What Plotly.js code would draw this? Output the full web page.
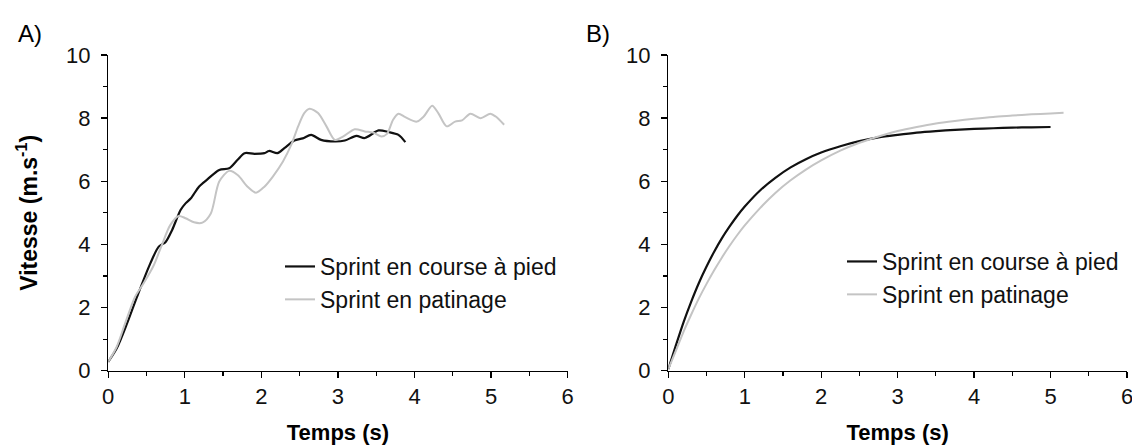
<!DOCTYPE html>
<html><head><meta charset="utf-8">
<script src="https://cdn.plot.ly/plotly-3.0.1.min.js"></script>
<style>html,body{margin:0;padding:0;background:#fff}#chart{width:1132px;height:448px}</style>
</head><body><div id="chart"></div>
<script>
// Panel A: measured speed (m/s) vs time (s)
const tA_course = [0, 0.11, 0.245, 0.376, 0.55, 0.66, 0.75, 0.835, 0.945, 1.01, 1.08, 1.185, 1.295, 1.45, 1.58, 1.69, 1.78, 1.91, 2.04, 2.10, 2.21, 2.30, 2.43, 2.54, 2.65, 2.78, 2.96, 3.09, 3.24, 3.35, 3.53, 3.66, 3.79, 3.88];
const vA_course = [0.28, 0.70, 1.49, 2.34, 3.40, 3.93, 4.08, 4.46, 5.09, 5.30, 5.46, 5.83, 6.06, 6.36, 6.41, 6.68, 6.89, 6.87, 6.89, 6.96, 6.89, 7.05, 7.29, 7.36, 7.47, 7.31, 7.26, 7.29, 7.44, 7.37, 7.61, 7.56, 7.47, 7.24];
const tA_pat = [0, 0.11, 0.22, 0.35, 0.46, 0.595, 0.70, 0.81, 0.92, 1.01, 1.12, 1.23, 1.34, 1.45, 1.58, 1.69, 1.82, 1.93, 2.04, 2.15, 2.28, 2.39, 2.48, 2.56, 2.63, 2.74, 2.85, 2.96, 3.07, 3.22, 3.35, 3.46, 3.57, 3.64, 3.72, 3.79, 3.88, 4.03, 4.12, 4.23, 4.31, 4.42, 4.53, 4.62, 4.73, 4.86, 4.99, 5.06, 5.17];
const vA_pat = [0.28, 0.75, 1.49, 2.34, 2.76, 3.34, 3.98, 4.61, 4.90, 4.83, 4.70, 4.69, 4.98, 5.99, 6.33, 6.20, 5.83, 5.64, 5.83, 6.15, 6.62, 7.15, 7.74, 8.16, 8.30, 8.16, 7.74, 7.31, 7.42, 7.65, 7.58, 7.54, 7.42, 7.50, 7.95, 8.14, 8.03, 7.89, 8.05, 8.39, 8.16, 7.74, 7.89, 7.93, 8.14, 8.00, 8.14, 8.05, 7.79];

// Panel B: modelled speed curves
const tB_course = [0, 0.1, 0.2, 0.3, 0.4, 0.5, 0.6, 0.7, 0.8, 0.9, 1.0, 1.2, 1.4, 1.6, 1.8, 2.0, 2.25, 2.5, 2.75, 3.0, 3.25, 3.5, 3.75, 4.0, 4.25, 4.5, 4.75, 5.0];
const vB_course = [0.05, 0.81, 1.54, 2.19, 2.78, 3.30, 3.77, 4.19, 4.56, 4.90, 5.20, 5.71, 6.11, 6.44, 6.70, 6.91, 7.11, 7.27, 7.39, 7.47, 7.54, 7.59, 7.63, 7.66, 7.68, 7.70, 7.71, 7.72];
const tB_pat = [0, 0.1, 0.2, 0.3, 0.4, 0.5, 0.6, 0.7, 0.8, 0.9, 1.0, 1.2, 1.4, 1.6, 1.8, 2.0, 2.25, 2.5, 2.75, 3.0, 3.25, 3.5, 3.75, 4.0, 4.25, 4.5, 4.75, 5.0, 5.17];
const vB_pat = [0.05, 0.64, 1.24, 1.78, 2.29, 2.75, 3.18, 3.58, 3.95, 4.29, 4.60, 5.15, 5.63, 6.03, 6.37, 6.66, 6.97, 7.22, 7.42, 7.59, 7.72, 7.83, 7.91, 7.98, 8.04, 8.08, 8.12, 8.15, 8.17];

const seriesNames = ['Sprint en course à pied', 'Sprint en patinage'];
const xTickVals = [0, 1, 2, 3, 4, 5, 6];
const yTickVals = [0, 2, 4, 6, 8, 10];
const panelLabels = ['A)', 'B)'];
const xTitle = '<b>Temps (s)</b>';
const yTitle = '<b>Vitesse (m.s<sup>-1</sup>)</b>';

const W = 1132, H = 448;
const FONT = 'Liberation Sans, Arial, sans-serif';
const BLACK = '#111111', GREY = '#c4c4c4';

function tr(x, y, name, color, width, xa, ya, leg) {
  return {x: x, y: y, name: name, type: 'scatter', mode: 'lines',
    line: {color: color, width: width, shape: 'spline', smoothing: 0.8},
    xaxis: xa, yaxis: ya, legend: leg, hoverinfo: 'skip'};
}
const data = [
  tr(tA_course, vA_course, seriesNames[0], BLACK, 2.2, 'x', 'y', 'legend'),
  tr(tA_pat, vA_pat, seriesNames[1], GREY, 2, 'x', 'y', 'legend'),
  tr(tB_course, vB_course, seriesNames[0], BLACK, 2.2, 'x2', 'y2', 'legend2'),
  tr(tB_pat, vB_pat, seriesNames[1], GREY, 2, 'x2', 'y2', 'legend2')
];

const axBase = {
  showline: true, linecolor: '#000', linewidth: 1.3, mirror: false,
  ticks: 'outside', ticklen: 6, tickwidth: 1.3, tickcolor: '#000',
  showgrid: false, zeroline: false, fixedrange: true, automargin: false,
  ticklabeloverflow: 'allow',
  tickfont: {family: FONT, size: 22, color: '#111'}
};
const yDom = [(H - 370.7) / H, (H - 55) / H];
function xax(dom, anchor) {
  return Object.assign({}, axBase, {
    domain: dom, anchor: anchor, range: [0, 6], tickmode: 'array', tickvals: xTickVals,
    minor: {ticks: 'outside', ticklen: 4, tickwidth: 1.2, tickcolor: '#000', dtick: 0.5, tick0: 0, showgrid: false},
    title: {text: xTitle, font: {family: FONT, size: 22, color: '#000'}, standoff: 16}
  });
}
function yax(anchor, withTitle) {
  const ax = Object.assign({}, axBase, {
    domain: yDom, anchor: anchor, range: [0, 10], tickmode: 'array', tickvals: yTickVals,
    ticklabelstandoff: 6,
    minor: {ticks: 'outside', ticklen: 4, tickwidth: 1.2, tickcolor: '#000', dtick: 1, tick0: 0, showgrid: false}
  });
  if (withTitle) ax.title = {text: yTitle, font: {family: FONT, size: 23, color: '#000'}, standoff: 22};
  return ax;
}
const legBase = {
  xref: 'paper', yref: 'paper', xanchor: 'left', yanchor: 'top',
  font: {family: FONT, size: 23, color: '#111'}, bgcolor: 'rgba(0,0,0,0)',
  borderwidth: 0, tracegroupgap: 0, itemclick: false, itemdoubleclick: false
};
const layout = {
  width: W, height: H, margin: {l: 0, r: 0, t: 0, b: 0},
  paper_bgcolor: '#fff', plot_bgcolor: '#fff', showlegend: true,
  xaxis: xax([108.2 / W, 567.7 / W], 'y'),
  yaxis: yax('x', true),
  xaxis2: xax([668.3 / W, 1127 / W], 'y2'),
  yaxis2: yax('x2', false),
  legend: Object.assign({}, legBase, {x: 280 / W, y: (H - 245) / H}),
  legend2: Object.assign({}, legBase, {x: 842 / W, y: (H - 240) / H}),
  annotations: [
    {text: panelLabels[0], xref: 'paper', yref: 'paper', x: 16 / W, y: (H - 34) / H, xanchor: 'left', yanchor: 'middle', showarrow: false, font: {family: FONT, size: 24, color: '#000'}},
    {text: panelLabels[1], xref: 'paper', yref: 'paper', x: 584 / W, y: (H - 34) / H, xanchor: 'left', yanchor: 'middle', showarrow: false, font: {family: FONT, size: 24, color: '#000'}}
  ]
};
Plotly.newPlot('chart', data, layout, {staticPlot: true, displayModeBar: false});
</script>
</body></html>
